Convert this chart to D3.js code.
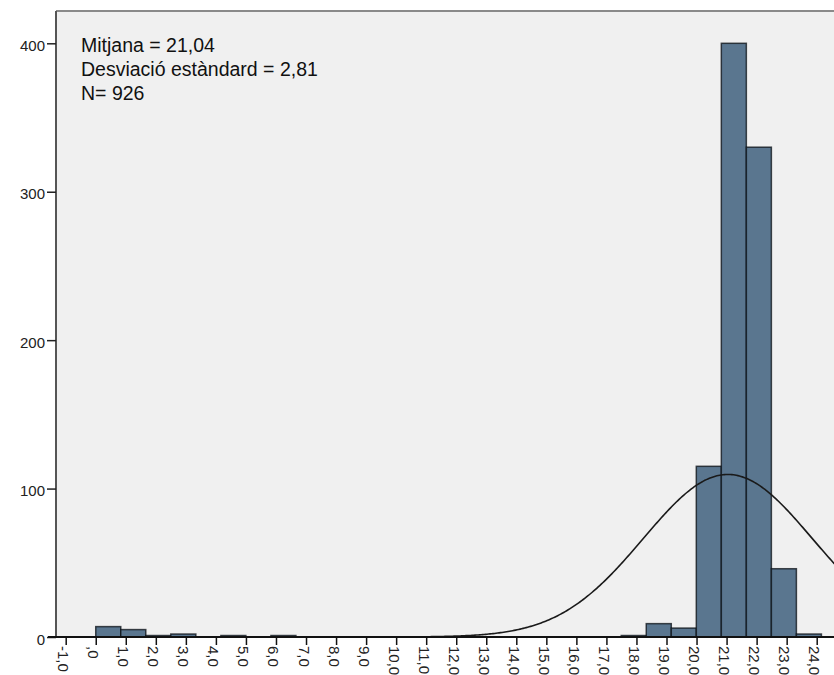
<!DOCTYPE html>
<html><head><meta charset="utf-8">
<script src="https://cdn.jsdelivr.net/npm/d3@7"></script>
<style>body{margin:0;background:#fff;overflow:hidden}</style>
</head><body>
<script>
// ---- data ----
const binStart = 0;
const binWidth = 0.833;
const binCounts = [7,5,1,2,0,1,0,1, 0,0,0,0,0,0,0,0,0,0,0,0,0, 1,9,6,115,400,330,46,2];
const xTickValues = [-1,0,1,2,3,4,5,6,7,8,9,10,11,12,13,14,15,16,17,18,19,20,21,22,23,24];
const xTickLabels = ["-1,0",",0","1,0","2,0","3,0","4,0","5,0","6,0","7,0","8,0","9,0","10,0","11,0","12,0","13,0","14,0","15,0","16,0","17,0","18,0","19,0","20,0","21,0","22,0","23,0","24,0"];
const yTickValues = [0,100,200,300,400];
const meanValue = 21.04;
const sdValue = 2.81;
const nValue = 926;
const statLines = ["Mitjana = 21,04","Desviació estàndard = 2,81","N= 926"];

// ---- layout ----
const W = 834, H = 675;
const plotLeft = 56, plotTop = 11, plotBottom = 637, plotRight = 900;
const font = "'Liberation Sans', Arial, sans-serif";

const svg = d3.select("body").append("svg").attr("width", W).attr("height", H)
  .style("font-family", font);

const x = d3.scaleLinear().domain([-1, 24]).range([65.7, 816.7]);
const y = d3.scaleLinear().domain([0, 400]).range([plotBottom, 43.3]);

svg.append("rect").attr("x", plotLeft).attr("y", plotTop)
  .attr("width", plotRight - plotLeft).attr("height", plotBottom - plotTop)
  .attr("fill", "#f0f0f0");
svg.append("line").attr("x1", plotLeft).attr("x2", plotRight)
  .attr("y1", plotTop).attr("y2", plotTop).attr("stroke", "#8a8a8a").attr("stroke-width", 2);

// bars
const bins = binCounts.map((c, i) => ({x0: binStart + i * binWidth, x1: binStart + (i + 1) * binWidth, count: c}))
  .filter(d => d.count > 0);
svg.append("g").selectAll("rect").data(bins).join("rect")
  .attr("x", d => x(d.x0)).attr("width", d => x(d.x1) - x(d.x0))
  .attr("y", d => y(d.count)).attr("height", d => plotBottom - y(d.count))
  .attr("fill", "#5a768f").attr("stroke", "rgba(10,15,20,0.75)").attr("stroke-width", 1.5);

// normal curve
const peak = nValue * binWidth / (sdValue * Math.sqrt(2 * Math.PI));
const curvePts = d3.range(x.invert(plotLeft), x.invert(W + 20), 0.05)
  .map(v => [v, peak * Math.exp(-0.5 * Math.pow((v - meanValue) / sdValue, 2))]);
svg.append("path").datum(curvePts)
  .attr("d", d3.line().x(d => x(d[0])).y(d => y(d[1])))
  .attr("fill", "none").attr("stroke", "#1a1a1a").attr("stroke-width", 1.6);

// y axis
const yAxis = svg.append("g").attr("transform", `translate(${plotLeft},0)`)
  .call(d3.axisLeft(y).tickValues(yTickValues).tickSize(9).tickPadding(2).tickFormat(d3.format("d")));
yAxis.select(".domain").attr("d", `M0,${plotTop}V${plotBottom}`).attr("stroke", "#555").attr("stroke-width", 2);
yAxis.selectAll(".tick line").attr("stroke", "#222").attr("stroke-width", 1.5);
yAxis.selectAll(".tick text").attr("font-size", 15).attr("font-family", font).attr("fill", "#222").attr("dy", "0.47em");

// x axis
const xAxis = svg.append("g").attr("transform", `translate(0,${plotBottom})`)
  .call(d3.axisBottom(x).tickValues(xTickValues).tickSize(8).tickFormat((d, i) => xTickLabels[i]));
xAxis.select(".domain").attr("d", `M${plotLeft - 8},0H${plotRight}`).attr("stroke", "#111").attr("stroke-width", 2);
xAxis.selectAll(".tick line").attr("stroke", "#111").attr("stroke-width", 1.5);
xAxis.selectAll(".tick text")
  .attr("font-size", 15).attr("font-family", font).attr("fill", "#222")
  .attr("x", 0).attr("y", 0).attr("dy", null)
  .attr("text-anchor", "start")
  .attr("transform", "translate(-8,9) rotate(90)");

// stats text
svg.append("g").selectAll("text").data(statLines).join("text")
  .attr("x", 81).attr("y", (d, i) => 51.7 + i * 24.2)
  .attr("font-size", 19.5).attr("fill", "#111").text(d => d);
</script>
</body></html>
